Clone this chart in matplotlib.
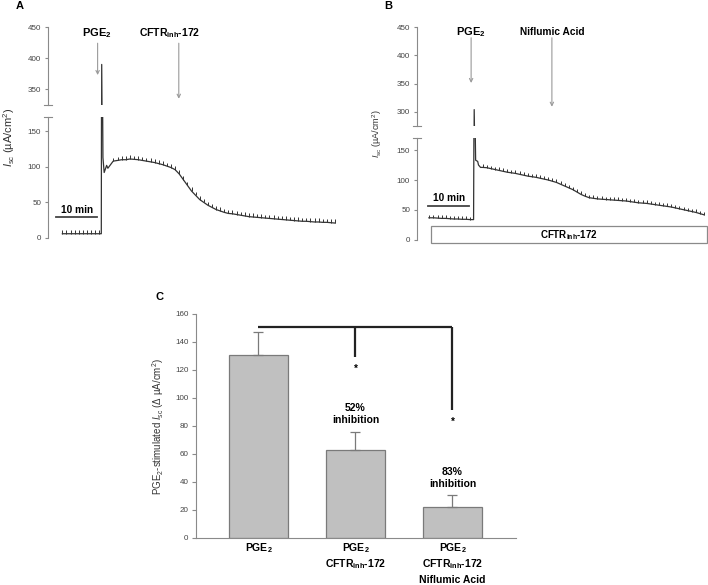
import matplotlib
matplotlib.use('Agg')
import matplotlib.pyplot as plt
import numpy as np

plt.rcParams['font.family'] = ['Liberation Sans', 'DejaVu Sans']
plt.rcParams['mathtext.fontset'] = 'custom'
plt.rcParams['mathtext.rm'] = 'Liberation Sans'
plt.rcParams['mathtext.it'] = 'Liberation Sans:italic'
plt.rcParams['mathtext.bf'] = 'Liberation Sans:bold'

# ---------------- data ----------------
# Panel A trace (time in min, Isc in uA/cm2)
time_a = [3.5, 4.5, 5.5, 6.5, 7.5, 8.5, 9.5, 10.5, 11.5, 12.5, 13.0, 13.1, 13.4, 13.7,
          14.3, 14.6, 15.9, 17, 18, 19, 20, 21, 22, 23, 24, 25, 26, 27, 28, 29, 30, 31,
          32, 33, 34, 35, 36, 37, 38, 39, 40, 41, 42, 43, 44, 45, 46, 47, 48, 49, 50,
          51, 52, 53, 54, 55, 56, 57, 58, 59, 60, 61, 62, 63, 64, 65, 66, 67, 68, 69, 70]
isc_a = [6, 6, 6, 6, 6, 6, 6, 6, 6, 6, 6, 390, 113, 92,
         102, 98, 108, 109, 110, 110, 111, 110.5, 110, 109, 108, 107, 106, 104.5, 103, 101, 99, 96,
         90, 82, 74, 66, 60, 54, 50, 46, 43, 40, 38, 36, 34.5, 34, 33, 32, 31, 30, 29.5,
         29, 28.5, 28, 27.5, 27, 26.5, 26, 25.5, 25, 24.5, 24, 23.5, 23.5, 23, 22.5, 22.5, 22, 22, 21.5, 21]
sem_a = 5.0
events_a = {'PGE': 12.1, 'CFTR': 31.9}

# Panel B trace
time_b = [2.9, 4, 5, 6, 7, 8, 9, 10, 11, 12, 13, 13.8, 13.95, 14.3, 14.8, 15.0, 15.5,
          16, 17, 18, 19, 20, 21, 22, 23, 24, 25, 26, 27, 28, 29, 30, 31, 32, 33, 34, 35,
          36, 37, 38, 39, 40, 41, 42, 43, 44, 45, 46, 47, 48, 49, 50, 51, 52, 53, 54, 55,
          56, 57, 58, 59, 60, 61, 62, 63, 64, 65, 66, 67, 68, 69, 70]
isc_b = [37, 37, 36.5, 36, 36, 35.5, 35, 35, 34.5, 34.5, 34, 34, 304, 133, 131, 125, 121,
         121, 120.5, 119, 117.5, 116, 114.5, 113, 112, 111, 109.5, 108, 106.5, 105.5, 104.5, 103, 101.5, 100, 98, 96, 93,
         90, 87, 84, 80, 76, 73, 70.5, 69.5, 68.5, 68, 67.5, 67, 66.5, 66, 65.5, 65, 64, 63, 62, 61.5,
         61, 60, 59, 58, 57, 56, 55, 53.5, 52, 50.5, 49, 47.5, 46, 44, 42]
sem_b = 5.0
events_b = {'PGE': 13.2, 'NFA': 32.9}

# Panel C bars
categories = [['PGE$_\\mathbf{2}$'],
              ['PGE$_\\mathbf{2}$', 'CFTR$_\\mathbf{inh}$-172'],
              ['PGE$_\\mathbf{2}$', 'CFTR$_\\mathbf{inh}$-172', 'Niflumic Acid']]
means = [131, 63, 22]
sems = [16, 13, 8.5]
inhibition = [None, '52%\ninhibition', '83%\ninhibition']
bracket_top = 151
bracket_ends = [129, 91.5]
star_y = [121, 83]

# ---------------- figure ----------------
W, H = 708, 585
fig = plt.figure(figsize=(W / 100, H / 100), dpi=100)


def box(x0, y0, x1, y1):
    return [x0 / W, 1 - y1 / H, (x1 - x0) / W, (y1 - y0) / H]


AX = '#8a8a8a'
TR = '#333333'
TK = '#444444'


def style_trace_ax(ax):
    for s in ['top', 'right', 'bottom']:
        ax.spines[s].set_visible(False)
    ax.spines['left'].set_color(AX)
    ax.spines['left'].set_linewidth(0.8)
    ax.set_xticks([])
    ax.tick_params(axis='y', length=2.5, width=0.8, color=AX, labelsize=5.8,
                   labelcolor=TK, pad=2.5)
    ax.patch.set_alpha(0)


def draw_trace(ax, t, v, sem, skip):
    t = np.asarray(t, float)
    v = np.asarray(v, float)
    ax.plot(t, v, color=TR, lw=0.9)
    m = (t < skip[0]) | (t > skip[1])
    ax.vlines(t[m], v[m], v[m] + sem, color=TR, lw=0.7)


def break_marks(ax, where, half_px):
    w = ax.get_position().width * W
    d = half_px / w
    ax.plot([-d, d], [where, where], transform=ax.transAxes, color=AX, lw=0.8, clip_on=False)


# ---- Panel A ----
xmax_a = (345 - 48) / 4.1
axA_lo = fig.add_axes(box(48, 117, 345, 238))
axA_hi = fig.add_axes(box(48, 27, 345, 105))
for ax in (axA_lo, axA_hi):
    style_trace_ax(ax)
    ax.set_xlim(0, xmax_a)
    draw_trace(ax, time_a, isc_a, sem_a, (12.9, 15.5))
axA_lo.set_ylim(0, 170)
axA_lo.set_yticks([0, 50, 100, 150])
axA_hi.set_ylim(325, 450)
axA_hi.set_yticks([350, 400, 450])
break_marks(axA_lo, 1, 4)
break_marks(axA_hi, 0, 4)

arrow_kw = dict(arrowstyle='->', color='#9a9a9a', lw=0.8, shrinkA=0, shrinkB=0, mutation_scale=6)
axA_hi.annotate('', xy=(events_a['PGE'], 373), xytext=(events_a['PGE'], 424), arrowprops=arrow_kw,
                annotation_clip=False)
axA_hi.annotate('', xy=(events_a['CFTR'], 335), xytext=(events_a['CFTR'], 424), arrowprops=arrow_kw,
                annotation_clip=False)
axA_hi.text(events_a['PGE'] - 0.2, 440, 'PGE$_\\mathbf{2}$', ha='center', va='center',
            fontsize=8, fontweight='bold')
axA_hi.text(events_a['CFTR'] - 2.2, 440, 'CFTR$_\\mathbf{inh}$-172', ha='center', va='center',
            fontsize=7.5, fontweight='bold')
axA_lo.plot([2, 12], [29.5, 29.5], color='#444', lw=1.3)
axA_lo.text(7, 33, '10 min', ha='center', va='bottom', fontsize=7.3, fontweight='bold')
fig.text(9 / W, 1 - 137 / H, '$I_{\\mathrm{sc}}$ (µA/cm$^2$)', rotation=90, ha='center',
         va='center', fontsize=8, color='#333')
fig.text(20 / W, 1 - 6 / H, 'A', ha='center', va='center', fontsize=8, fontweight='bold')

# ---- Panel B ----
xmax_b = (708 - 417) / 4.1
axB_lo = fig.add_axes(box(417, 138, 708, 240))
axB_hi = fig.add_axes(box(417, 27, 708, 126))
for ax in (axB_lo, axB_hi):
    style_trace_ax(ax)
    ax.set_xlim(0, xmax_b)
    draw_trace(ax, time_b, isc_b, sem_b, (13.7, 15.8))
axB_lo.set_ylim(0, 170)
axB_lo.set_yticks([0, 50, 100, 150])
axB_hi.set_ylim(275, 450)
axB_hi.set_yticks([300, 350, 400, 450])
break_marks(axB_lo, 1, 4)
break_marks(axB_hi, 0, 4)

axB_hi.annotate('', xy=(events_b['PGE'], 351), xytext=(events_b['PGE'], 431), arrowprops=arrow_kw,
                annotation_clip=False)
axB_hi.annotate('', xy=(events_b['NFA'], 309), xytext=(events_b['NFA'], 431), arrowprops=arrow_kw,
                annotation_clip=False)
axB_hi.text(events_b['PGE'], 441, 'PGE$_\\mathbf{2}$', ha='center', va='center',
            fontsize=8, fontweight='bold')
axB_hi.text(events_b['NFA'], 442, 'Niflumic Acid', ha='center', va='center',
            fontsize=7.3, fontweight='bold')
axB_lo.plot([2.7, 12.7], [57, 57], color='#444', lw=1.3)
axB_lo.text(7.7, 61, '10 min', ha='center', va='bottom', fontsize=7.3, fontweight='bold')
rect = plt.Rectangle((3.4, -5), 67.3, 28, facecolor='white', edgecolor='#8a8a8a', lw=0.9,
                     clip_on=False)
axB_lo.add_patch(rect)
axB_lo.text(3.4 + 67.3 / 2, 9, 'CFTR$_\\mathbf{inh}$-172', ha='center', va='center',
            fontsize=7, fontweight='bold')
fig.text(377 / W, 1 - 134 / H, '$I_{\\mathrm{sc}}$ (µA/cm$^2$)', rotation=90, ha='center',
         va='center', fontsize=6.5, color='#333')
fig.text(388 / W, 1 - 6 / H, 'B', ha='center', va='center', fontsize=8, fontweight='bold')

# ---- Panel C ----
axC = fig.add_axes(box(196, 314, 516, 538))
x = np.arange(len(means))
axC.bar(x, means, width=0.61, color='#c0c0c0', edgecolor='#7a7a7a', lw=0.9, zorder=2)
axC.errorbar(x, means, yerr=[np.zeros(len(sems)), sems], fmt='none', ecolor='#7a7a7a',
             elinewidth=0.9, capsize=3.5, capthick=0.9, zorder=3)
axC.set_xlim(-0.644, 2.655)
axC.set_ylim(0, 160)
axC.set_yticks(range(0, 161, 20))
for s in ['top', 'right']:
    axC.spines[s].set_visible(False)
for s in ['left', 'bottom']:
    axC.spines[s].set_color(AX)
    axC.spines[s].set_linewidth(0.8)
axC.set_xticks([])
axC.tick_params(axis='y', length=3, width=0.8, color=AX, labelsize=5.8, labelcolor=TK, pad=2.5)

axC.plot([x[0], x[2]], [bracket_top, bracket_top], color='#222', lw=1.6, solid_capstyle='butt')
axC.plot([x[1], x[1]], [bracket_top, bracket_ends[0]], color='#222', lw=1.6, solid_capstyle='butt')
axC.plot([x[2], x[2]], [bracket_top, bracket_ends[1]], color='#222', lw=1.6, solid_capstyle='butt')
for xi, sy in zip(x[1:], star_y):
    axC.text(xi, sy, '*', ha='center', va='center', fontsize=7, fontweight='bold')
inh_y = [None, 88.6, 42.8]
for xi, txt, yy in zip(x, inhibition, inh_y):
    if txt:
        axC.text(xi, yy, txt, ha='center', va='center', fontsize=7.5, fontweight='bold',
                 linespacing=1.15)
for xi, lines in zip(x, categories):
    for j, s in enumerate(lines):
        axC.annotate(s, xy=(xi, 0), xycoords=('data', 'axes fraction'),
                     xytext=(0, -(10 + 16 * j) * 0.72), textcoords='offset points',
                     ha='center', va='center', fontsize=7.5, fontweight='bold',
                     annotation_clip=False)
fig.text(158 / W, 1 - 427 / H, 'PGE$_2$-stimulated $I_{\\mathrm{sc}}$ (Δ µA/cm$^2$)', rotation=90,
         ha='center', va='center', fontsize=7, color='#333')
fig.text(160 / W, 1 - 297 / H, 'C', ha='center', va='center', fontsize=8, fontweight='bold')

fig.savefig('out.png', dpi=100)
